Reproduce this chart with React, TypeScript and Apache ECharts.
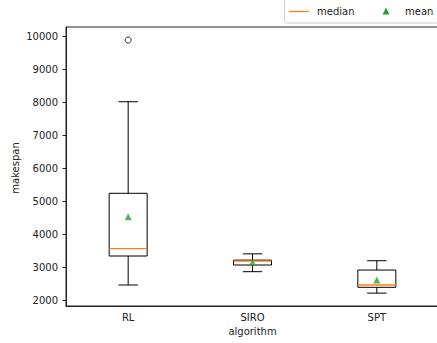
import React, { useEffect, useRef } from "react";
import * as echarts from "echarts";

const categories = ["RL", "SIRO", "SPT"];
const whiskerLow = [2476, 2880, 2230];
const q1 = [3355, 3082, 2406];
const medians = [3576, 3200, 2476];
const q3 = [5255, 3230, 2930];
const whiskerHigh = [8030, 3420, 3212];
const means = [4545, 3160, 2627];
const outliers: [number, number][] = [[0, 9900]];
const yTicks = [2000, 3000, 4000, 5000, 6000, 7000, 8000, 9000, 10000];

const FONT = "DejaVu Sans";
const INK = "#222";

export default function App() {
  const ref = useRef<HTMLDivElement>(null);
  useEffect(() => {
    const chart = echarts.init(ref.current!, null, { renderer: "svg" });
    const boxData = categories.map((_, i) => [i, whiskerLow[i], q1[i], medians[i], q3[i], whiskerHigh[i]]);
    const option: any = {
      animation: false,
      backgroundColor: "#fff",
      grid: {
        left: 66,
        top: 27,
        width: 373,
        height: 279,
        outerBoundsMode: "none",
        containLabel: false,
        show: true,
        borderColor: INK,
        borderWidth: 1,
        backgroundColor: "transparent",
      },
      xAxis: {
        type: "category",
        data: categories,
        boundaryGap: true,
        axisLine: { lineStyle: { color: INK, width: 1 } },
        axisTick: { alignWithLabel: true, length: 3.5, lineStyle: { color: INK } },
        axisLabel: { fontFamily: FONT, fontSize: 10, color: INK, margin: 6 },
        splitLine: { show: false },
      },
      yAxis: {
        type: "value",
        min: 1840,
        max: 10295,
        axisLine: { show: true, lineStyle: { color: INK, width: 1 } },
        axisTick: { show: true, length: 3.5, lineStyle: { color: INK }, customValues: yTicks },
        axisLabel: {
          fontFamily: FONT,
          fontSize: 10,
          color: INK,
          margin: 8,
          customValues: yTicks,
          formatter: (v: number) => String(Math.round(v)),
        },
        splitLine: { show: false },
      },
      series: [
        {
          type: "custom",
          name: "median",
          data: boxData,
          encode: { x: 0, y: [1, 2, 3, 4, 5] },
          z: 2,
          renderItem: (params: any, api: any) => {
            const idx = api.value(0);
            const lo = api.coord([idx, api.value(1)]);
            const b1 = api.coord([idx, api.value(2)]);
            const md = api.coord([idx, api.value(3)]);
            const b3 = api.coord([idx, api.value(4)]);
            const hi = api.coord([idx, api.value(5)]);
            const cx = lo[0];
            const hw = 19;
            const cw = 9.7;
            const ls = { stroke: "#000", lineWidth: 1, fill: null };
            return {
              type: "group",
              children: [
                { type: "line", shape: { x1: cx, y1: b3[1], x2: cx, y2: hi[1] }, style: ls },
                { type: "line", shape: { x1: cx, y1: b1[1], x2: cx, y2: lo[1] }, style: ls },
                { type: "line", shape: { x1: cx - cw, y1: hi[1], x2: cx + cw, y2: hi[1] }, style: ls },
                { type: "line", shape: { x1: cx - cw, y1: lo[1], x2: cx + cw, y2: lo[1] }, style: ls },
                {
                  type: "rect",
                  shape: { x: cx - hw, y: b3[1], width: hw * 2, height: b1[1] - b3[1] },
                  style: { stroke: "#000", lineWidth: 1, fill: "none" },
                },
                {
                  type: "line",
                  shape: { x1: cx - hw, y1: md[1], x2: cx + hw, y2: md[1] },
                  style: { stroke: "#ff7f0e", lineWidth: 1.3 },
                },
              ],
            };
          },
        },
        {
          type: "scatter",
          name: "mean",
          data: means.map((v, i) => [i, v]),
          symbol: "triangle",
          symbolSize: 7,
          itemStyle: { color: "#2ca02c" },
          z: 3,
        },
        {
          type: "scatter",
          name: "outliers",
          data: outliers,
          symbol: "circle",
          symbolSize: 6,
          itemStyle: { color: "#fff", borderColor: "#000", borderWidth: 1 },
          z: 3,
        },
      ],
      graphic: [
        {
          type: "text",
          rotation: Math.PI / 2,
          x: 15,
          y: 168,
          style: {
            text: "makespan",
            fontFamily: FONT,
            fontSize: 10,
            fill: INK,
            align: "center",
            verticalAlign: "middle",
          },
        },
        {
          type: "text",
          x: 252.5,
          y: 331,
          style: {
            text: "algorithm",
            fontFamily: FONT,
            fontSize: 10,
            fill: INK,
            align: "center",
            verticalAlign: "middle",
          },
        },
        {
          type: "rect",
          shape: { x: 284.5, y: -5, width: 155, height: 28, r: 3 },
          style: { fill: "#fff", stroke: "#ccc", lineWidth: 1 },
          z: 10,
        },
        {
          type: "line",
          shape: { x1: 289, y1: 11.5, x2: 309, y2: 11.5 },
          style: { stroke: "#ff7f0e", lineWidth: 1.3 },
          z: 11,
        },
        {
          type: "text",
          x: 317,
          y: 11,
          style: { text: "median", fontFamily: FONT, fontSize: 10, fill: INK, verticalAlign: "middle" },
          z: 11,
        },
        {
          type: "polygon",
          shape: { points: [[386, 7.5], [382.5, 14.5], [389.5, 14.5]] },
          style: { fill: "#2ca02c" },
          z: 11,
        },
        {
          type: "text",
          x: 405,
          y: 11,
          style: { text: "mean", fontFamily: FONT, fontSize: 10, fill: INK, verticalAlign: "middle" },
          z: 11,
        },
      ],
    };
    chart.setOption(option);
    return () => chart.dispose();
  }, []);
  return (
    <div
      ref={ref}
      style={{ position: "fixed", left: 0, top: 0, width: 437, height: 343, background: "#fff" }}
    />
  );
}
